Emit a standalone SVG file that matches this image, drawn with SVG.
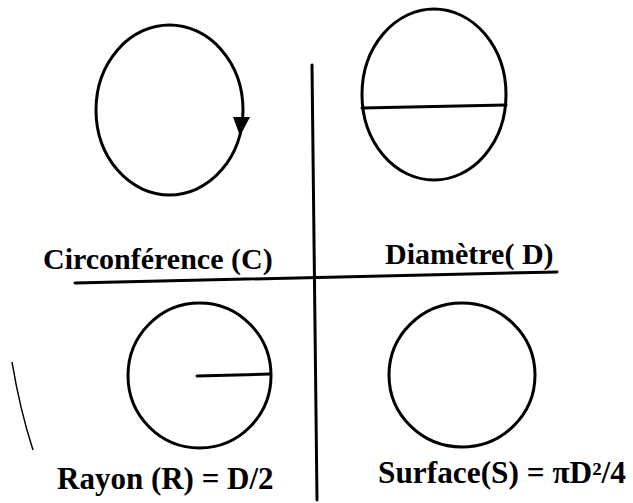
<svg xmlns="http://www.w3.org/2000/svg" width="633" height="503" viewBox="0 0 633 503">
<style>
.s{fill:none;stroke:#000;stroke-width:3;stroke-linecap:round}
.t{font-family:"Liberation Serif","Times New Roman",serif;font-weight:bold;font-size:30px;fill:#000}
</style>
<rect width="633" height="503" fill="#fff"/>
<g id="connectors">
<path class="s" d="M312,65 L317,500"/>
<path class="s" d="M75,283 L557,272"/>
<path d="M12,362 Q20,410 33,450" fill="none" stroke="#000" stroke-width="1.5"/>
</g>
<g id="circonference">
<ellipse class="s" cx="169.5" cy="110" rx="73.5" ry="85"/>
<polygon points="233,117 250,117 240,136" fill="#000"/>
<text class="t" x="43" y="269">Circonférence (C)</text>
</g>
<g id="diametre">
<ellipse class="s" cx="434" cy="94.5" rx="72" ry="85.5"/>
<path class="s" d="M362,108 L506,105"/>
<text class="t" x="385" y="264">Diamètre( D)</text>
</g>
<g id="rayon">
<ellipse class="s" cx="199.5" cy="375.5" rx="71.5" ry="72.5"/>
<path class="s" d="M197,376 L270,374"/>
<text class="t" x="57" y="489" style="font-size:31px">Rayon (R) = D/2</text>
</g>
<g id="surface">
<ellipse class="s" cx="462" cy="375" rx="73" ry="72"/>
<text class="t" x="378" y="483" style="font-size:31px" textLength="248" lengthAdjust="spacingAndGlyphs">Surface(S) = πD²/4</text>
</g>
</svg>
